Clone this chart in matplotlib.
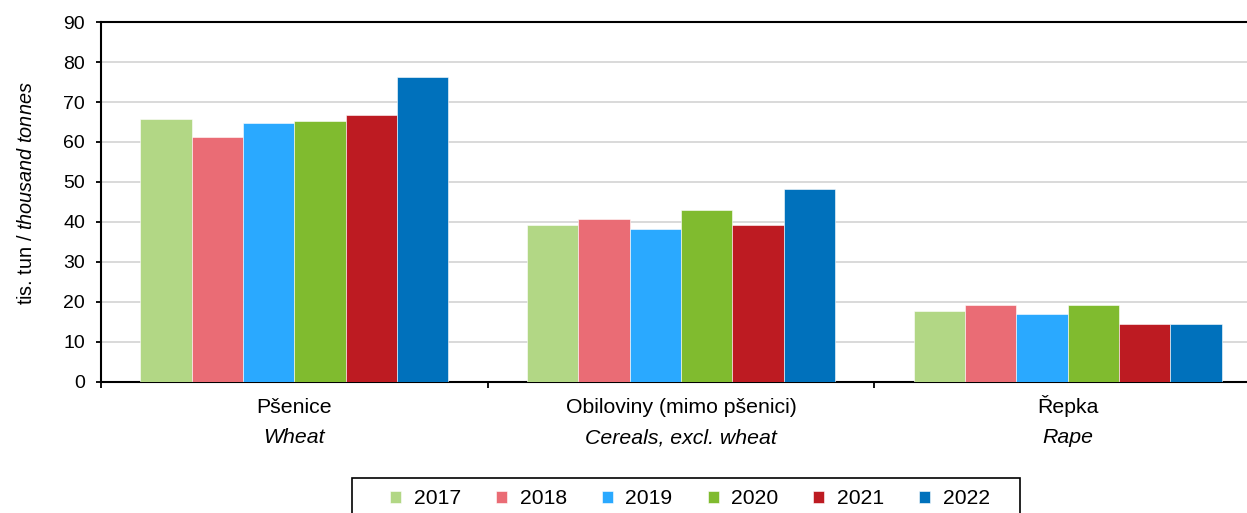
import matplotlib
matplotlib.use("Agg")
import matplotlib.pyplot as plt
import matplotlib.patches as mpatches
import numpy as np

plt.rcParams['font.family'] = ['Liberation Sans', 'DejaVu Sans']
plt.rcParams['mathtext.fontset'] = 'custom'
plt.rcParams['mathtext.rm'] = 'Liberation Sans'
plt.rcParams['mathtext.it'] = 'Liberation Sans:italic'

# data
categories_cz = ['Pšenice', 'Obiloviny (mimo pšenici)', 'Řepka']
categories_en = ['Wheat', 'Cereals, excl. wheat', 'Rape']
years = ['2017', '2018', '2019', '2020', '2021', '2022']
v2017 = [65.8, 39.3, 17.7]
v2018 = [61.3, 40.8, 19.2]
v2019 = [64.8, 38.3, 16.9]
v2020 = [65.2, 43.1, 19.3]
v2021 = [66.8, 39.3, 14.4]
v2022 = [76.3, 48.3, 14.4]
series = [v2017, v2018, v2019, v2020, v2021, v2022]
colors = ['#B2D785', '#EA6C75', '#2AA9FF', '#80BB2F', '#BD1B22', '#0071BC']

W, H = 1247, 513
fig = plt.figure(figsize=(W / 100, H / 100), dpi=100)
ax = fig.add_axes([101 / W, 131 / H, 1160 / W, 360 / H])

x = np.arange(len(categories_cz))
w = 0.1327
for i, (vals, c, yr) in enumerate(zip(series, colors, years)):
    ax.bar(x + (i - 2.5) * w, vals, width=w, color=c, label=yr,
           edgecolor='white', linewidth=0.4, zorder=3)

ax.set_xlim(-0.5, len(categories_cz) - 0.5)
ax.set_ylim(0, 90)
ax.set_yticks(np.arange(0, 91, 10))
ax.yaxis.grid(True, color='#d0d0d0', linewidth=1.1, zorder=0)
ax.set_axisbelow(True)

# category boundary ticks
ax.set_xticks(np.arange(-0.5, len(categories_cz), 1.0))
ax.set_xticklabels([])
ax.tick_params(axis='x', direction='out', length=4.5, width=1.3, color='black')
ax.tick_params(axis='y', direction='out', length=3.5, width=1.3, pad=8,
               labelsize=14, color='black')

for s in ['left', 'bottom', 'top']:
    ax.spines[s].set_linewidth(1.5)
    ax.spines[s].set_color('black')
ax.spines['right'].set_visible(False)

# category labels (two languages)
tr = ax.get_xaxis_transform()
for xi, cz, en in zip(x, categories_cz, categories_en):
    ax.text(xi, -0.086, cz, transform=tr, ha='center', va='baseline', fontsize=15.3)
    ax.text(xi, -0.170, en, transform=tr, ha='center', va='baseline', fontsize=15.3,
            style='italic')

fig.text(27 / W, 1 - 193 / H, r'tis. tun / $\mathit{thousand\ tonnes}$',
         rotation=90, ha='center', va='center', fontsize=14.3)

# legend with a hand-placed frame
leg = ax.legend(loc='center', bbox_to_anchor=(690 / W, 1 - 499 / H),
                bbox_transform=fig.transFigure, ncol=6, fontsize=15.2,
                frameon=False, handlelength=0.52, handleheight=0.52,
                handletextpad=0.6, columnspacing=1.66, borderpad=0,
                borderaxespad=0)
frame = mpatches.Rectangle((352 / W, -0.05), 668 / W, 1 - 478 / H + 0.05,
                           transform=fig.transFigure, fill=False,
                           edgecolor='black', linewidth=1.2)
fig.patches.append(frame)

fig.savefig('out.png', dpi=100)
